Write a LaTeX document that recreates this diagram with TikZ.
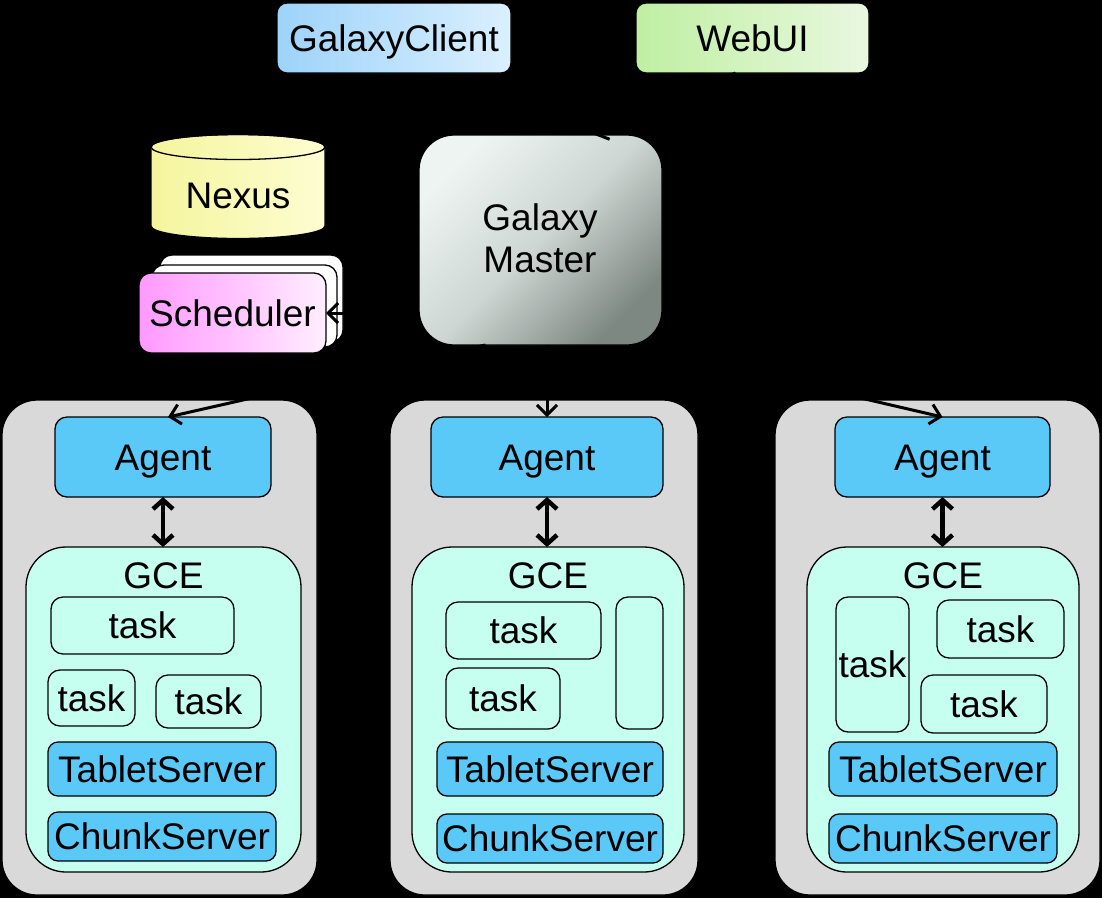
\documentclass[tikz,border=0pt]{standalone}
\usepackage{fontspec}
\setmainfont{Liberation Sans}
\usetikzlibrary{arrows.meta,calc}
\definecolor{agentblue}{HTML}{5BC9F8}
\definecolor{gcefill}{HTML}{C6FFF0}
\definecolor{hostgray}{HTML}{D9D9D9}
\definecolor{clientL}{HTML}{9ED3FA}
\definecolor{clientR}{HTML}{DAF0FE}
\definecolor{webL}{HTML}{BFEFA2}
\definecolor{webR}{HTML}{E9F8E0}
\definecolor{nexL}{HTML}{F5F59E}
\definecolor{nexR}{HTML}{FDFDD2}
\definecolor{schL}{HTML}{FF99FF}
\definecolor{schR}{HTML}{FFEEFF}
\definecolor{mstL}{HTML}{EEF4F2}
\definecolor{mstM}{HTML}{CDD6D2}
\definecolor{mstD}{HTML}{7E8883}
\tikzset{
  bx/.style={draw=black, line width=1.3pt, inner sep=0pt, outer sep=0pt,
    text height=26.5pt, text depth=0pt},
  hostbox/.style={bx, fill=hostgray, rounded corners=35pt},
  agentbox/.style={bx, fill=agentblue, rounded corners=12pt},
  gcebox/.style={bx, fill=gcefill, rounded corners=40pt},
  taskbox/.style={bx, fill=gcefill, rounded corners=12pt},
  srvbox/.style={bx, fill=agentblue, rounded corners=10pt},
  topbox/.style={bx, rounded corners=10pt},
  lbl/.style={inner sep=0pt, text height=26.5pt, text depth=0pt},
  arr/.style={draw=black, line width=3pt, -{Straight Barb[length=10pt,width=20pt]}},
  dblarr/.style={draw=black, line width=4.5pt,
    {Straight Barb[length=9pt,width=20pt]}-{Straight Barb[length=9pt,width=20pt]}},
}
% #1 style, #2 name, #3 x1, #4 y1, #5 x2, #6 y2, #7 text
\newcommand\mkbox[7]{%
  \pgfmathsetmacro\mkcx{(#3+#5)/2}%
  \pgfmathsetmacro\mkcy{(#4+#6)/2}%
  \pgfmathsetmacro\mkbw{#5-#3}%
  \pgfmathsetmacro\mkbh{#6-#4}%
  \node[#1, minimum width=\mkbw pt, minimum height=\mkbh pt] (#2) at (\mkcx,\mkcy) {#7};}
\begin{document}
\begin{tikzpicture}[x=1pt,y=-1pt,font=\fontsize{37}{44}\selectfont]
\fill[black] (0,0) rectangle (1102,898);
\useasboundingbox (0,0) rectangle (1102,898);

% top boxes
\mkbox{topbox, left color=clientL, right color=clientR}{client}{277}{3}{511}{73}{GalaxyClient}
\mkbox{topbox, left color=webL, right color=webR}{webui}{636}{3}{869}{73}{WebUI}

% Nexus cylinder
\shade[left color=nexL, right color=nexR, draw=black, line width=1.3pt]
  (151,147) -- (151,226) arc[start angle=180, end angle=360, x radius=87pt, y radius=12.5pt]
  -- (325,147) arc[start angle=0, end angle=180, x radius=87pt, y radius=12.5pt] -- cycle;
\draw[black, line width=1.3pt] (238,147) ellipse [x radius=87pt, y radius=12.5pt];
\node[lbl] (nexus) at (238,195) {Nexus};

% Scheduler stack
\mkbox{bx, fill=white, rounded corners=12pt}{sch3}{160}{255}{343}{342}{}
\mkbox{bx, fill=white, rounded corners=12pt}{sch2}{152}{265}{337}{347}{}
\mkbox{bx, rounded corners=12pt, left color=schL, right color=schR}{sched}{139}{273}{326}{353}{Scheduler}

% Galaxy master
\mkbox{draw=black, line width=1.3pt, rounded corners=35pt, inner sep=0pt, outer sep=0pt,
  top color=mstL, bottom color=mstD, middle color=mstM, shading angle=45}{master}{419}{135}{662}{345}{}
\node[align=center, inner sep=0pt] (mlabel) at (540,238) {Galaxy\\[-0.05em]Master};

% column 1
\mkbox{hostbox}{host1}{2}{400}{317}{895}{}
\mkbox{agentbox}{a1}{55}{417}{271}{497}{Agent}
\mkbox{gcebox}{g1}{26}{547}{301}{872}{}
\node[lbl] (g1l) at (163.5,575) {GCE};
\mkbox{taskbox}{t1a}{51}{597}{234}{654}{task}
\mkbox{taskbox}{t1b}{48}{670}{135}{726}{task}
\mkbox{taskbox}{t1c}{156}{675}{261}{728}{task}
\mkbox{srvbox}{ts1}{48}{742}{276}{796}{TabletServer}
\mkbox{srvbox}{cs1}{48}{812}{276}{861}{ChunkServer}

% column 2
\mkbox{hostbox}{host2}{390}{400}{698}{895}{}
\mkbox{agentbox}{a2}{431}{417}{663}{497}{Agent}
\mkbox{gcebox}{g2}{412}{547}{684}{872}{}
\node[lbl] (g2l) at (548,575) {GCE};
\mkbox{taskbox}{t2a}{446}{602}{601}{659}{task}
\mkbox{taskbox}{t2b}{446}{668}{560}{729}{task}
\mkbox{taskbox}{t2c}{616}{597}{663}{729}{}
\mkbox{srvbox}{ts2}{437}{742}{663}{796}{TabletServer}
\mkbox{srvbox}{cs2}{437}{814}{663}{863}{ChunkServer}

% column 3
\mkbox{hostbox}{host3}{775}{400}{1100}{895}{}
\mkbox{agentbox}{a3}{835}{417}{1050}{497}{Agent}
\mkbox{gcebox}{g3}{807}{547}{1079}{872}{}
\node[lbl] (g3l) at (943,575) {GCE};
\mkbox{taskbox}{t3a}{836}{597}{909}{732}{task}
\mkbox{taskbox}{t3b}{937}{600}{1064}{658}{task}
\mkbox{taskbox}{t3c}{921}{675}{1047}{733}{task}
\mkbox{srvbox}{ts3}{829}{742}{1057}{796}{TabletServer}
\mkbox{srvbox}{cs3}{829}{814}{1057}{863}{ChunkServer}

% connectors
\draw[arr] ([xshift=-17pt]webui.south) -- ([xshift=54pt]master.north);
\draw[arr] (sched.east -| master.west) -- (sched.east);
\draw[arr] ([xshift=-55pt]master.south) -- ([xshift=5pt]a1.north);
\draw[arr] (a2.north |- master.south) -- (a2.north);
\draw[arr] ([xshift=92pt]master.south) -- (a3.north);
\draw[dblarr] (a1.south) -- (a1.south |- g1.north);
\draw[dblarr] (a2.south) -- (a2.south |- g2.north);
\draw[dblarr] (a3.south) -- (a3.south |- g3.north);
\end{tikzpicture}
\end{document}
